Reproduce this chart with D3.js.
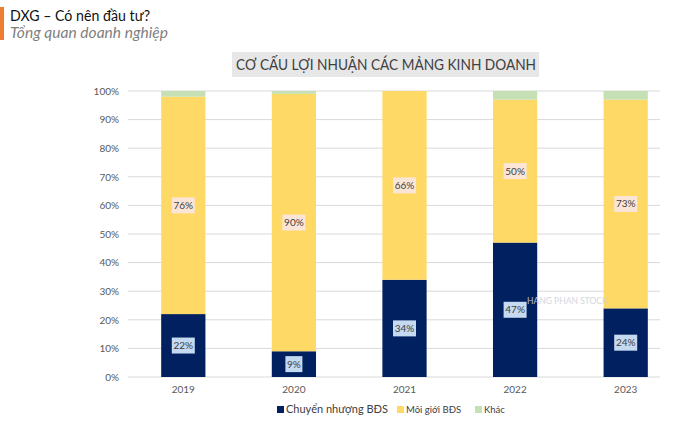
<!DOCTYPE html>
<html><head><meta charset="utf-8">
<script src="https://cdn.jsdelivr.net/npm/d3@7"></script>
<style>body{margin:0;background:#fff}svg{display:block}</style>
</head><body>
<svg id="c" width="690" height="425"></svg>
<script>
const years = ["2019","2020","2021","2022","2023"];
const chuyenNhuong = [22, 9, 34, 47, 24];
const moiGioi = [76, 90, 66, 50, 73];
const khac = [2, 1, 0, 3, 3];
const yTicks = [0,10,20,30,40,50,60,70,80,90,100];
const seriesNames = ["Chuyển nhượng BĐS","Môi giới BĐS","Khác"];
const colors = ["#002060","#FFD966","#C5E0B4"];

const svg = d3.select("#c");
const F = "Lato, 'Open Sans', sans-serif";

// header
svg.append("rect").attr("x",0).attr("y",7).attr("width",4).attr("height",33).attr("fill","#ED7D31");
svg.append("text").attr("x",10).attr("y",21).attr("font-family",F).attr("font-size",14.5).attr("fill","#111")
  .attr("textLength",140).attr("lengthAdjust","spacingAndGlyphs").text("DXG – Có nên đầu tư?");
svg.append("text").attr("x",10).attr("y",38).attr("font-family",F).attr("font-size",15).attr("font-style","italic").attr("fill","#7f7f7f")
  .attr("textLength",158).attr("lengthAdjust","spacingAndGlyphs").text("Tổng quan doanh nghiệp");

// chart title
svg.append("rect").attr("x",232).attr("y",52).attr("width",307).attr("height",25).attr("fill","#e7e7e7");
svg.append("text").attr("x",236).attr("y",70).attr("font-family",F).attr("font-size",15.5).attr("fill","#404040")
  .attr("textLength",300).attr("lengthAdjust","spacingAndGlyphs").text("CƠ CẤU LỢI NHUẬN CÁC MẢNG KINH DOANH");

const x = d3.scaleBand().domain(years).range([128,681]).paddingInner(0.6).paddingOuter(0.3);
const y = d3.scaleLinear().domain([0,100]).range([377,91]);

// grid
svg.append("g").selectAll("line").data(yTicks).join("line")
  .attr("x1",128).attr("x2",660).attr("y1",d=>y(d)).attr("y2",d=>y(d))
  .attr("stroke","#d9d9d9").attr("stroke-width",1);

// y axis
const ya = svg.append("g").attr("transform","translate(128,0)")
  .call(d3.axisLeft(y).tickValues(yTicks).tickFormat(d=>d+"%").tickSize(0).tickPadding(9));
ya.select(".domain").remove();
ya.selectAll("text").attr("font-family",F).attr("font-size",10).attr("fill","#595959");

// x axis
const xa = svg.append("g").attr("transform","translate(0,377)")
  .call(d3.axisBottom(x).tickSize(0).tickPadding(9));
xa.select(".domain").remove();
xa.selectAll("text").attr("font-family",F).attr("font-size",10).attr("fill","#595959");

const rows = years.map((yr,i)=>({year:yr, a:chuyenNhuong[i], b:moiGioi[i], c:khac[i]}));
const stack = d3.stack().keys(["a","b","c"])(rows);

stack.forEach((s,k)=>{
  svg.append("g").selectAll("rect").data(s).join("rect")
    .attr("x",d=>x(d.data.year)).attr("width",x.bandwidth())
    .attr("y",d=>y(d[1])).attr("height",d=>y(d[0])-y(d[1]))
    .attr("fill",colors[k]);
});

// labels
[0,1].forEach(k=>{
  const g = svg.append("g");
  stack[k].forEach(d=>{
    const cx = x(d.data.year)+x.bandwidth()/2;
    const cy = (y(d[0])+y(d[1]))/2;
    const v = d[1]-d[0];
    const t = v+"%";
    const w = t.length>2 ? 23 : 17;
    g.append("rect").attr("x",cx-w/2).attr("y",cy-8).attr("width",w).attr("height",16)
      .attr("fill", k===0 ? "#C5D9F1" : "#FBE5D6");
    g.append("text").attr("x",cx).attr("y",cy+3.5).attr("text-anchor","middle")
      .attr("font-family",F).attr("font-size",10).attr("fill","#404040").text(t);
  });
});

// watermark
svg.append("text").attr("x",527).attr("y",304).attr("font-family",F).attr("font-size",8.5)
  .attr("fill","#d0d4de").attr("opacity",0.9).text("HANG PHAN STOCK");

// legend
const leg = [{x:277,fs:11},{x:397,fs:9.5},{x:475,fs:9.5}];
leg.forEach((l,i)=>{
  svg.append("rect").attr("x",l.x).attr("y",406).attr("width",7).attr("height",7).attr("fill",colors[i]);
  svg.append("text").attr("x",l.x+9).attr("y",413).attr("font-family",F).attr("font-size",l.fs).attr("fill","#404040").text(seriesNames[i]);
});
</script>
</body></html>
